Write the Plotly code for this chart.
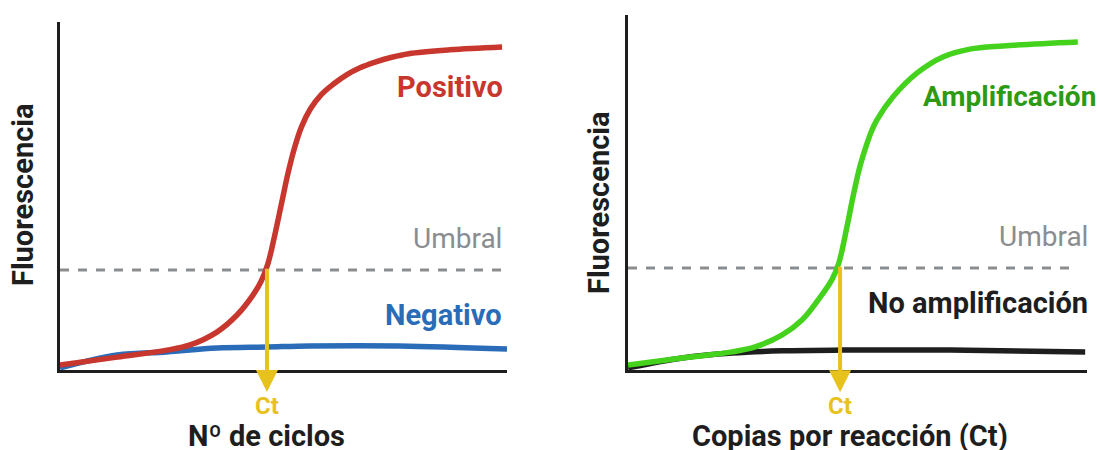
import plotly.graph_objects as go

# ---- data (arbitrary units: x 0-100, y 0-100) ----
pos_x = [0, 12.8, 23.9, 29.1, 35.1, 39.6, 43.2, 45.0, 46.5, 48.0, 49.5, 51.0, 52.5, 54.0, 56.0, 58.5, 61.1, 64.2,
         67.0, 70.5, 74.0, 78.0, 87.2, 98.9]
pos_y = [1.4, 3.7, 5.7, 7.2, 10.9, 15.8, 21.6, 25.5, 30.5, 38.5, 47.5, 56.5, 64.0, 69.8, 75.0, 79.2, 82.1, 84.9,
         86.8, 88.5, 89.8, 90.9, 92.0, 92.8]
neg_x = [0, 12.8, 23.9, 35.1, 46.3, 55.9, 76, 100]
neg_y = [0.6, 4.3, 5.2, 6.3, 6.6, 6.9, 6.9, 6.0]
thr_left = 28.7
thr_left_end = 99.2
ct_left = 46.3

amp_x = [0, 11.8, 22.7, 27.7, 33.6, 37.9, 41.4, 44.4, 45.9, 47.7, 49.0, 50.5, 52.1, 53.0, 54.2, 57.7, 63.0, 68.6,
         74.5, 81.7, 98.0]
amp_y = [1.4, 3.4, 5.1, 6.5, 9.9, 14.1, 19.7, 25.4, 30.0, 40.3, 48.7, 57.2, 63.9, 67.1, 70.4, 76.9, 83.7, 88.2,
         90.4, 91.3, 92.4]
noamp_x = [0, 11.8, 22.7, 33.6, 46.6, 70.2, 99.6]
noamp_y = [0.6, 3.4, 4.8, 5.4, 5.6, 5.6, 5.1]
thr_right = 28.7
thr_right_end = 98.0
ct_right = 46.2

RED = "#c8372d"
BLUE = "#2b6cb8"
GREEN = "#45d21d"
GREEN_TXT = "#2e9a14"
YELLOW = "#e8c21c"
GREY = "#8a8d90"
DARK = "#1e1e1e"
FONT = "Roboto"

OFF = 0  # body margin removed by post_script below


def px_x(p):
    return (p - OFF) / 1100


def px_y(p):
    return 1 - (p - OFF) / 450


fig = go.Figure()
LW = 5.5

# left panel
fig.add_trace(go.Scatter(x=[0, thr_left_end], y=[thr_left, thr_left], mode="lines",
                         line=dict(color=GREY, width=3, dash="dash"), xaxis="x", yaxis="y"))
fig.add_trace(go.Scatter(x=neg_x, y=neg_y, mode="lines", line=dict(color=BLUE, width=LW, shape="spline"),
                         xaxis="x", yaxis="y"))
fig.add_trace(go.Scatter(x=pos_x, y=pos_y, mode="lines", line=dict(color=RED, width=LW, shape="spline"),
                         xaxis="x", yaxis="y"))

# right panel
fig.add_trace(go.Scatter(x=[0, thr_right_end], y=[thr_right, thr_right], mode="lines",
                         line=dict(color=GREY, width=3, dash="dash"), xaxis="x2", yaxis="y2"))
fig.add_trace(go.Scatter(x=noamp_x, y=noamp_y, mode="lines", line=dict(color=DARK, width=LW, shape="spline"),
                         xaxis="x2", yaxis="y2"))
fig.add_trace(go.Scatter(x=amp_x, y=amp_y, mode="lines", line=dict(color=GREEN, width=LW, shape="spline"),
                         xaxis="x2", yaxis="y2"))

ax_common = dict(range=[0, 100], showgrid=False, zeroline=False, showticklabels=False, ticks="",
                 showline=True, linecolor=DARK, linewidth=3, fixedrange=True)
fig.update_layout(
    width=1100, height=450,
    margin=dict(l=0, r=0, t=0, b=0, autoexpand=False),
    paper_bgcolor="white", plot_bgcolor="white",
    showlegend=False,
    hovermode=False,
    font=dict(family=FONT),
    xaxis=dict(domain=[px_x(60), px_x(507)], anchor="y", **ax_common),
    yaxis=dict(domain=[px_y(370), px_y(22)], anchor="x", **ax_common),
    xaxis2=dict(domain=[px_x(628), px_x(1087)], anchor="y2", **ax_common),
    yaxis2=dict(domain=[px_y(370), px_y(15)], anchor="x2", **ax_common),
)

ann = []


def label(text, x, y, color, xr, yr, size=29, bold=True, xanchor="right", **kw):
    t = f"<b>{text}</b>" if bold else text
    ann.append(dict(text=t, x=x, y=y, xref=xr, yref=yr, showarrow=False, xanchor=xanchor,
                    yanchor="middle", borderpad=0, font=dict(family=FONT, size=size, color=color), **kw))


# left labels
label("Positivo", 99.3, 81.3, RED, "x", "y")
label("Umbral", 99.0, 37.9, GREY, "x", "y", size=28, bold=False)
label("Negativo", 99.0, 15.8, BLUE, "x", "y")
label("Ct", ct_left, px_y(406), YELLOW, "x", "paper", size=24, xanchor="center")
label("Nº de ciclos", px_x(266), px_y(436), DARK, "paper", "paper", xanchor="center")
label("Fluorescencia", px_x(23), px_y(195), DARK, "paper", "paper", xanchor="center", textangle=-90)

# right labels
label("Amplificación", px_x(1097), px_y(97), GREEN_TXT, "paper", "paper", size=28)
label("Umbral", px_x(1089), px_y(237), GREY, "paper", "paper", size=28, bold=False)
label("No amplificación", px_x(1089), px_y(303), DARK, "paper", "paper")
label("Ct", ct_right, px_y(406), YELLOW, "x2", "paper", size=24, xanchor="center")
label("Copias por reacción (Ct)", px_x(850), px_y(436), DARK, "paper", "paper", xanchor="center")
label("Fluorescencia", px_x(599), px_y(203), DARK, "paper", "paper", xanchor="center", textangle=-90)

# Ct arrows
for xr, yr, xv, y0, y1 in [("x", "y", ct_left, 29.5, -6.3), ("x2", "y2", ct_right, 29.5, -6.3)]:
    ann.append(dict(x=xv, y=y1, ax=xv, ay=y0, xref=xr, yref=yr, axref=xr, ayref=yr, text="",
                    showarrow=True, arrowhead=2, arrowsize=1.1, arrowwidth=4, arrowcolor=YELLOW))

fig.update_layout(annotations=ann)
fig.write_html("out.html", config={"displayModeBar": False, "staticPlot": True},
               post_script="document.body.style.margin='0';document.body.style.overflow='hidden';")
